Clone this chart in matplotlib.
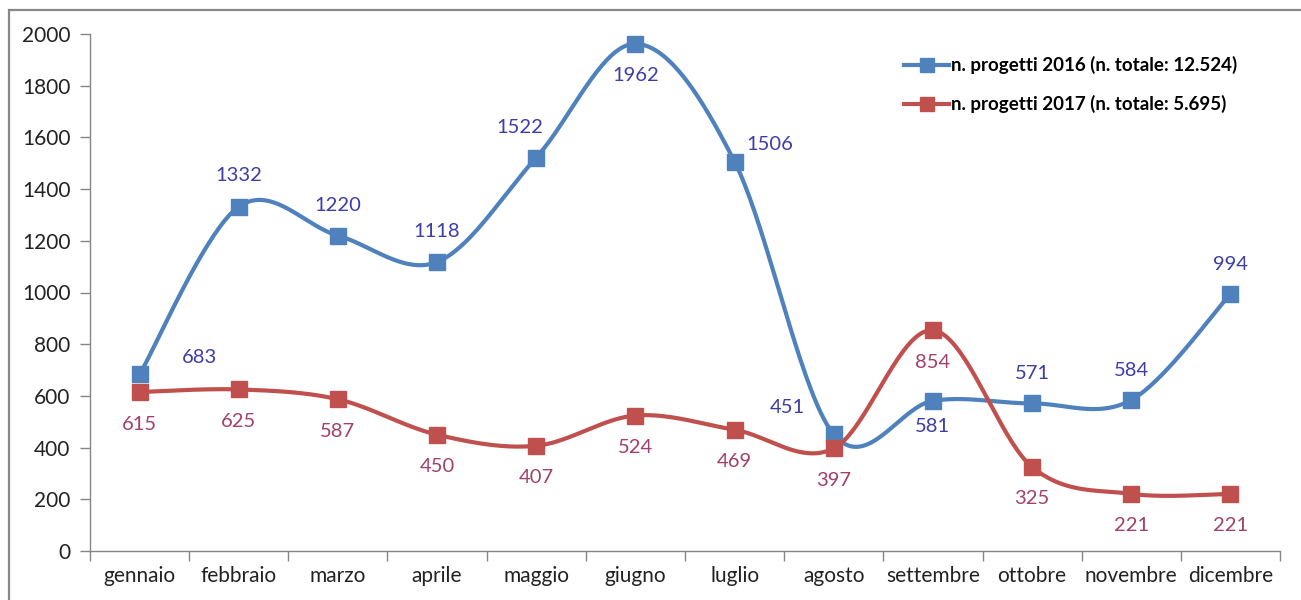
import numpy as np
import matplotlib
matplotlib.use("Agg")
import matplotlib.pyplot as plt
from matplotlib.lines import Line2D
from matplotlib.patches import Rectangle

plt.rcParams['font.family'] = ['Lato', 'DejaVu Sans']

mesi = ['gennaio', 'febbraio', 'marzo', 'aprile', 'maggio', 'giugno',
        'luglio', 'agosto', 'settembre', 'ottobre', 'novembre', 'dicembre']
progetti_2016 = [683, 1332, 1220, 1118, 1522, 1962, 1506, 451, 581, 571, 584, 994]
progetti_2017 = [615, 625, 587, 450, 407, 524, 469, 397, 854, 325, 221, 221]
label_2016 = 'n. progetti 2016 (n. totale: 12.524)'
label_2017 = 'n. progetti 2017 (n. totale: 5.695)'

# spostamento etichette (pixel) come nel grafico originale
off_2016 = [(60, 17), (0, 31), (0, 30), (0, 30), (-16, 30), (0, -32),
            (35, 17), (-46, 27), (0, -26), (0, 30), (0, 30), (0, 30)]
off_2017 = [(0, -32)] * 12

blu, rosso = '#4F81BD', '#C0504D'
blu_txt, rosso_txt = '#3D3DA8', '#A0406C'


def curva_smussata(x, y, n=40):
    # spline tipo Excel (Bezier con punti di controllo Catmull-Rom)
    x = np.asarray(x, float)
    y = np.asarray(y, float)
    px = np.concatenate([[x[0]], x, [x[-1]]])
    py = np.concatenate([[y[0]], y, [y[-1]]])
    xs, ys = [], []
    t = np.linspace(0, 1, n)
    for i in range(1, len(px) - 2):
        p0 = np.array([px[i], py[i]])
        p3 = np.array([px[i + 1], py[i + 1]])
        c1 = p0 + (p3 - np.array([px[i - 1], py[i - 1]])) / 6
        c2 = p3 - (np.array([px[i + 2], py[i + 2]]) - p0) / 6
        b = ((1 - t) ** 3)[:, None] * p0 + (3 * (1 - t) ** 2 * t)[:, None] * c1 \
            + (3 * (1 - t) * t ** 2)[:, None] * c2 + (t ** 3)[:, None] * p3
        xs.extend(b[:, 0])
        ys.extend(b[:, 1])
    return xs, ys


fig = plt.figure(figsize=(13.01, 6.0), dpi=100)
ax = fig.add_axes([90 / 1301, 1 - 551 / 600, 1190 / 1301, 517 / 600])

x = np.arange(len(mesi))
for vals, col, tcol, offs in [(progetti_2016, blu, blu_txt, off_2016),
                              (progetti_2017, rosso, rosso_txt, off_2017)]:
    sx, sy = curva_smussata(x, vals)
    ax.plot(sx, sy, color=col, lw=3, solid_capstyle='round', zorder=2)
    ax.plot(x, vals, 's', color=col, ms=12, zorder=3)
    for xi, v, (dx, dy) in zip(x, vals, offs):
        ax.annotate(str(v), (xi, v), xytext=(dx, dy), textcoords='offset pixels',
                    ha='center', va='center', fontsize=14.5, color=tcol, zorder=4)

ax.set_xlim(-0.5, 11.5)
ax.set_ylim(0, 2000)
ax.set_yticks(range(0, 2001, 200))
ax.set_xticks(x)
ax.set_xticklabels(mesi, fontsize=15, color='#222222')
ax.set_xticks(np.arange(-0.5, 12, 1), minor=True)
ax.tick_params(axis='x', which='major', length=0, pad=11)
ax.tick_params(axis='x', which='minor', length=7, color='#868686', width=1)
ax.tick_params(axis='y', length=7, color='#868686', width=1, labelsize=15,
               labelcolor='#222222', pad=7)
for s in ['top', 'right']:
    ax.spines[s].set_visible(False)
for s in ['left', 'bottom']:
    ax.spines[s].set_color('#868686')
    ax.spines[s].set_linewidth(1)

handles = [Line2D([], [], color=blu, lw=3, marker='s', ms=10),
           Line2D([], [], color=rosso, lw=3, marker='s', ms=10)]
ax.legend(handles, [label_2016, label_2017], loc='upper left',
          bbox_to_anchor=(895 / 1301, 1 - 47 / 600), bbox_transform=fig.transFigure,
          frameon=False, handlelength=2.4, handletextpad=0.1, labelspacing=1.1,
          prop={'weight': 'bold', 'size': 13.5}, borderpad=0)

# bordo dell'area del grafico
fig.patches.append(Rectangle((9 / 1301, -0.1), 1.2, 1.1 - 10 / 600, transform=fig.transFigure,
                             fill=False, edgecolor='#888888', lw=1.6))

fig.savefig('out.png', dpi=100)
